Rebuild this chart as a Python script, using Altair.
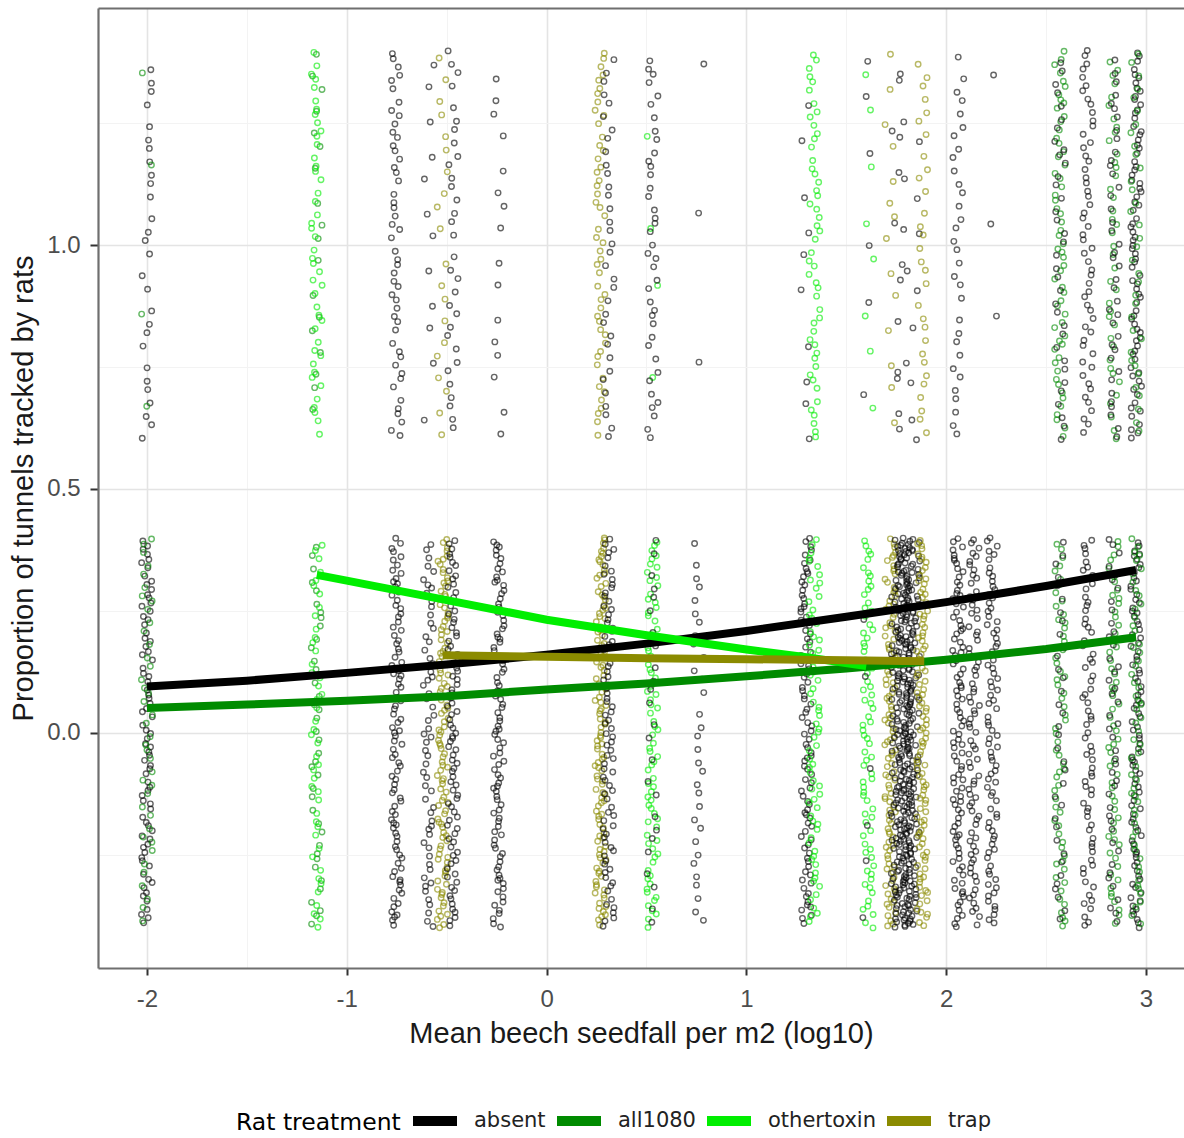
import altair as alt
import pandas as pd

# Rat treatments and their colours
TREATMENTS = ["absent", "all1080", "othertoxin", "trap"]
COLOURS = ["#000000", "#008B00", "#00EE00", "#8B8B00"]

# Tracking-tunnel observations, grouped by seedfall level and treatment:
# number of tunnels not tracked (0) and tracked (1) at each level
obs_x = [-2.00, -2.00, -1.15, -1.15, -0.75, -0.59, -0.52, -0.47, -0.24,
         0.27, 0.31, 0.53, 0.53, 0.76, 1.30, 1.34, 1.61, 1.61,
         1.72, 1.75, 1.78, 1.81, 1.84, 1.88, 2.06, 2.14, 2.23,
         2.57, 2.57, 2.71, 2.84, 2.84, 2.95, 2.95]
obs_treat = ["absent", "all1080", "all1080", "othertoxin", "absent", "absent",
             "trap", "absent", "absent", "trap", "absent", "othertoxin",
             "absent", "absent", "absent", "othertoxin", "othertoxin", "absent",
             "trap", "absent", "absent", "absent", "absent", "trap",
             "absent", "absent", "absent", "all1080", "absent", "absent",
             "all1080", "absent", "absent", "all1080"]
obs_untracked = [80, 40, 40, 45, 95, 60, 110, 90, 95,
                 120, 85, 80, 25, 32, 95, 70, 75, 6,
                 110, 95, 100, 100, 90, 110, 100, 80, 85,
                 60, 35, 70, 60, 45, 95, 60]
obs_tracked = [28, 4, 18, 45, 50, 12, 20, 32, 16,
               50, 34, 4, 40, 3, 10, 50, 8, 6,
               14, 6, 8, 6, 6, 30, 32, 0, 3,
               58, 35, 55, 40, 40, 80, 35]

# Fitted probability of tracking for each treatment
absent_x = [-2.0, -1.5, -1.0, -0.5, 0.0, 0.5, 1.0, 1.5, 2.0, 2.5, 2.95]
absent_fit = [0.095, 0.107, 0.123, 0.140, 0.160, 0.183, 0.209, 0.238, 0.268, 0.301, 0.334]
all1080_x = [-2.0, -1.5, -1.0, -0.5, 0.0, 0.5, 1.0, 1.5, 2.0, 2.5, 2.95]
all1080_fit = [0.051, 0.058, 0.066, 0.075, 0.089, 0.101, 0.116, 0.132, 0.150, 0.172, 0.196]
othertoxin_x = [-1.15, -1.0, -0.5, 0.0, 0.5, 1.0, 1.3, 1.6]
othertoxin_fit = [0.324, 0.312, 0.272, 0.232, 0.200, 0.171, 0.155, 0.137]
trap_x = [-0.52, 0.0, 0.5, 1.0, 1.5, 1.89]
trap_fit = [0.159, 0.156, 0.153, 0.151, 0.149, 0.147]

# ---- tables -------------------------------------------------------------
obs_rows = []
for x, t, n0, n1 in zip(obs_x, obs_treat, obs_untracked, obs_tracked):
    obs_rows += [{"seedfall": x, "treat": t, "tracked": 0}] * n0
    obs_rows += [{"seedfall": x, "treat": t, "tracked": 1}] * n1
obs = pd.DataFrame(obs_rows)

fits = pd.concat([
    pd.DataFrame({"seedfall": absent_x, "p": absent_fit, "treat": "absent"}),
    pd.DataFrame({"seedfall": all1080_x, "p": all1080_fit, "treat": "all1080"}),
    pd.DataFrame({"seedfall": othertoxin_x, "p": othertoxin_fit, "treat": "othertoxin"}),
    pd.DataFrame({"seedfall": trap_x, "p": trap_fit, "treat": "trap"}),
], ignore_index=True)

# ---- scales and axes ----------------------------------------------------
X_DOMAIN = [-2.245, 3.19]
Y_DOMAIN = [-0.482, 1.486]
xs = alt.Scale(domain=X_DOMAIN, nice=False, zero=False)
ys = alt.Scale(domain=Y_DOMAIN, nice=False, zero=False)
colour_scale = alt.Scale(domain=TREATMENTS, range=COLOURS)

# point outline colour per treatment (kept off the legend)
point_colour_expr = "".join(
    f"datum.treat === '{t}' ? '{c}' : " for t, c in zip(TREATMENTS, COLOURS)
) + "'#777777'"

BORDER = "#6f6f6f"
LABEL_FONT = "Liberation Sans"

x_minor = "datum.value % 1 !== 0"
y_minor = "(datum.value * 2) % 1 !== 0"

x_axis = alt.Axis(
    values=[-2, -1.5, -1, -0.5, 0, 0.5, 1, 1.5, 2, 2.5, 3],
    labelExpr="datum.value % 1 === 0 ? '' + datum.value : ''",
    grid=True,
    gridColor={"condition": {"test": x_minor, "value": "#f3f3f3"}, "value": "#e4e4e4"},
    gridWidth={"condition": {"test": x_minor, "value": 1}, "value": 1.6},
    tickOpacity={"condition": {"test": x_minor, "value": 0}, "value": 1},
    domainColor=BORDER, domainWidth=2.2,
    tickColor="#333333", tickWidth=2, tickSize=7,
    labelFont=LABEL_FONT, labelFontSize=24, labelColor="#4d4d4d", labelPadding=12,
    title="Mean beech seedfall per m2 (log10)",
    titleFont=LABEL_FONT, titleFontSize=29, titleFontWeight="normal",
    titleColor="#1a1a1a", titlePadding=8,
)
y_axis = alt.Axis(
    values=[-0.25, 0, 0.25, 0.5, 0.75, 1, 1.25],
    labelExpr="(datum.value * 2) % 1 === 0 ? format(datum.value, '.1f') : ''",
    grid=True,
    gridColor={"condition": {"test": y_minor, "value": "#f3f3f3"}, "value": "#e4e4e4"},
    gridWidth={"condition": {"test": y_minor, "value": 1}, "value": 1.6},
    tickOpacity={"condition": {"test": y_minor, "value": 0}, "value": 1},
    domainColor=BORDER, domainWidth=2.2,
    tickColor="#333333", tickWidth=2, tickSize=8,
    labelFont=LABEL_FONT, labelFontSize=24, labelColor="#4d4d4d", labelPadding=10,
    title="Proportion of tunnels tracked by rats",
    titleFont=LABEL_FONT, titleFontSize=29, titleFontWeight="normal",
    titleColor="#1a1a1a", titlePadding=8,
)
top_axis = alt.Axis(orient="top", labels=False, ticks=False, grid=False,
                    title=None, domainColor=BORDER, domainWidth=2.2)

legend = alt.Legend(
    title="Rat treatment", orient="none", direction="horizontal",
    legendX=138, legendY=1086,
    titleOrient="left", titleAnchor="middle",
    titleBaseline="line-top", titleLineHeight=10,
    titleFont="DejaVu Sans", titleFontSize=23.5,
    titleFontWeight="normal", titleColor="#000000", titlePadding=7,
    labelFont="DejaVu Sans", labelFontSize=21, labelColor="#222222",
    labelOffset=12, columnPadding=-9,
    symbolType="stroke", symbolSize=1936, symbolStrokeWidth=10,
)

# ---- jittered observations ---------------------------------------------
# vertical spread follows the golden-ratio sequence, horizontal spread a hash
points = (
    alt.Chart(obs)
    .transform_window(idx="row_number()")
    .transform_calculate(
        hx="(sin(datum.idx * 12.9898) * 43758.5453) % 1",
        xj="datum.seedfall + (abs(datum.hx) - 0.5) * 0.055",
        yj="datum.tracked + (((datum.idx * 0.6180339887) % 1) - 0.5) * 0.8",
        pcol=point_colour_expr,
    )
    .mark_point(shape="circle", filled=False, size=30, strokeWidth=1.4, opacity=0.6)
    .encode(
        x=alt.X("xj:Q", scale=xs, axis=x_axis),
        y=alt.Y("yj:Q", scale=ys, axis=y_axis),
        stroke=alt.Stroke("pcol:N", scale=None),
    )
)

# ---- fitted curves, one layer per treatment (drawn in legend order) -----
curve_layers = []
for i, t in enumerate(TREATMENTS):
    curve_layers.append(
        alt.Chart(fits)
        .transform_filter(alt.datum.treat == t)
        .mark_line(strokeWidth=8, strokeCap="butt")
        .encode(
            x=alt.X("seedfall:Q", scale=xs, axis=top_axis if i == 0 else None),
            y=alt.Y("p:Q", scale=ys, axis=None),
            color=alt.Color("treat:N", scale=colour_scale, legend=legend),
        )
    )

chart = (
    alt.layer(points, *curve_layers)
    .resolve_axis(x="independent", y="independent")
    .properties(
        width=1086, height=960,
        autosize=alt.AutoSizeParams(type="none"),
        padding={"left": 98, "top": 8, "right": 0, "bottom": 170},
        background="white",
    )
    .configure_view(stroke=None)
)

chart.save("out.html", embed_options={"renderer": "svg", "actions": False})
